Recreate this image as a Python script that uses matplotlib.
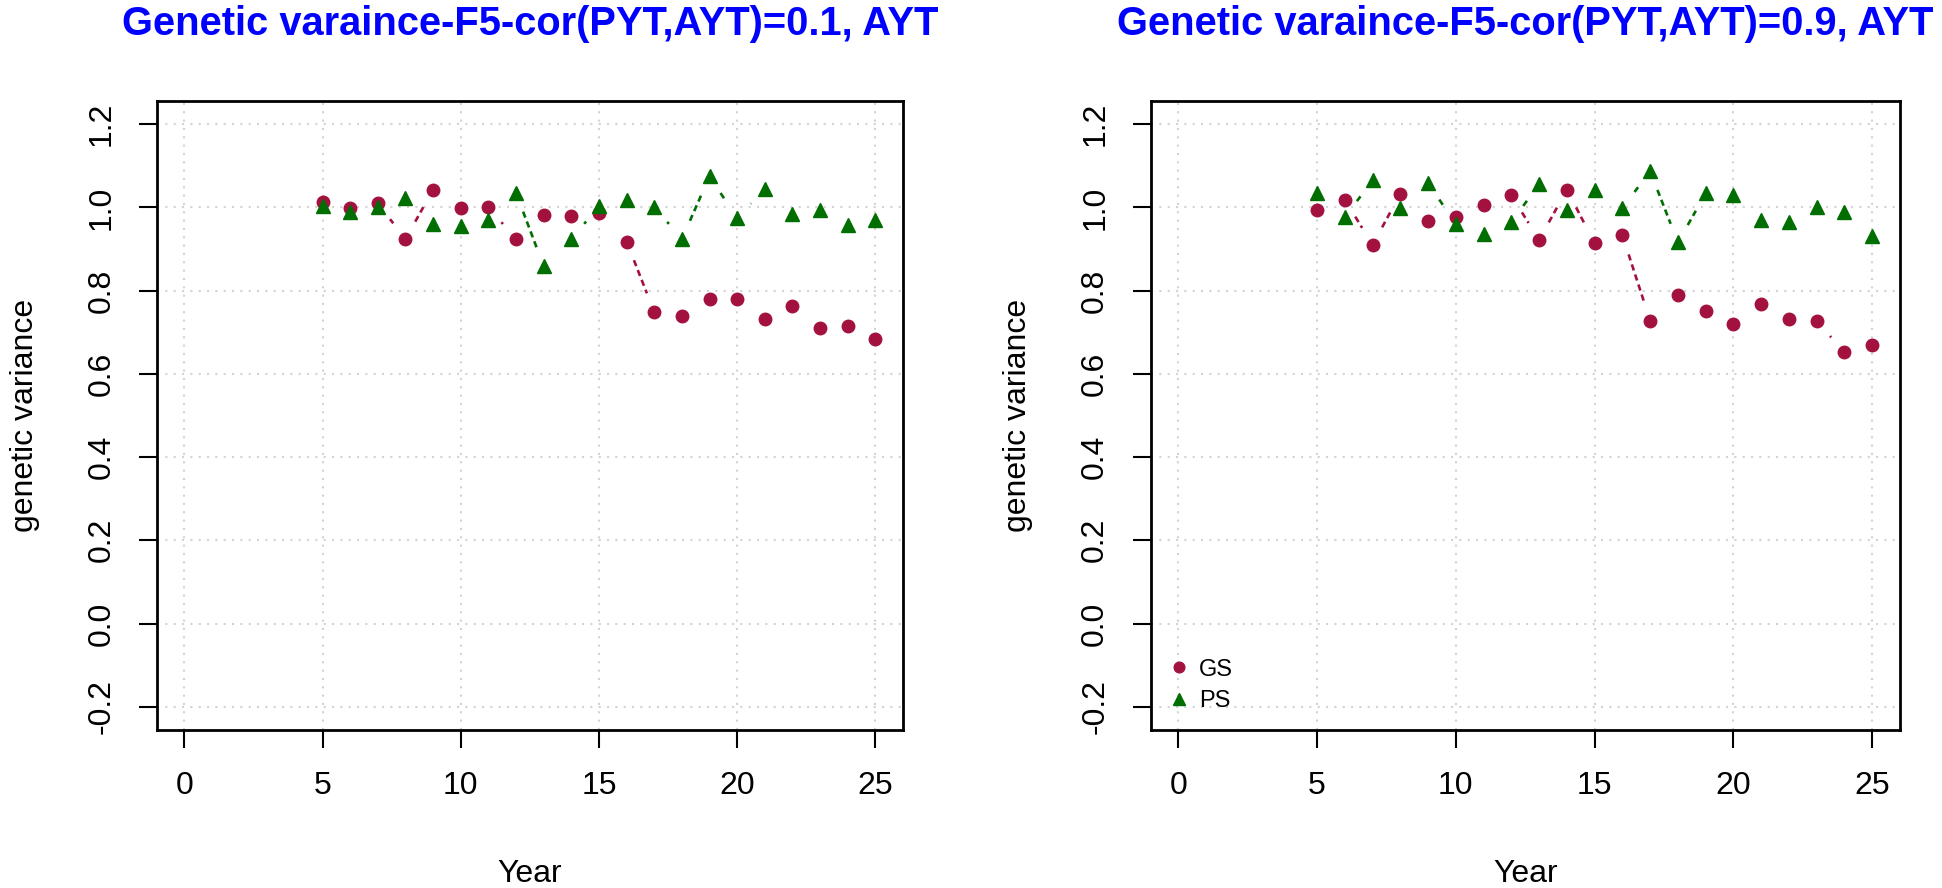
import numpy as np
import matplotlib
matplotlib.use("Agg")
import matplotlib.pyplot as plt

years = list(range(5, 26))

gs_cor01 = [1.013, 0.998, 1.010, 0.924, 1.043, 0.998, 1.001, 0.924, 0.983, 0.979,
            0.987, 0.918, 0.749, 0.740, 0.779, 0.779, 0.733, 0.764, 0.710, 0.714, 0.684]
ps_cor01 = [1.004, 0.990, 1.000, 1.023, 0.960, 0.956, 0.970, 1.035, 0.859, 0.924,
            1.003, 1.019, 1.002, 0.924, 1.075, 0.974, 1.045, 0.985, 0.993, 0.957, 0.969]

gs_cor09 = [0.993, 1.019, 0.910, 1.033, 0.967, 0.977, 1.007, 1.029, 0.922, 1.043,
            0.914, 0.933, 0.728, 0.790, 0.750, 0.719, 0.767, 0.731, 0.727, 0.652, 0.669]
ps_cor09 = [1.035, 0.977, 1.065, 0.999, 1.059, 0.960, 0.936, 0.965, 1.056, 0.995,
            1.041, 0.999, 1.087, 0.916, 1.034, 1.030, 0.969, 0.964, 1.002, 0.990, 0.931]

titles = ["Genetic varaince-F5-cor(PYT,AYT)=0.1, AYT",
          "Genetic varaince-F5-cor(PYT,AYT)=0.9, AYT"]
series_labels = ["GS", "PS"]
xticks = [0, 5, 10, 15, 20, 25]
yticks = [-0.2, 0.0, 0.2, 0.4, 0.6, 0.8, 1.0, 1.2]
ytick_labels = ["-0.2", "0.0", "0.2", "0.4", "0.6", "0.8", "1.0", "1.2"]

GS_COLOR = "#A3123F"
PS_COLOR = "#006E00"

plt.rcParams['font.family'] = ['Liberation Sans', 'DejaVu Sans']

W, H = 1942, 888
fig = plt.figure(figsize=(W / 100, H / 100), dpi=100)

def px_axes(x0, x1, ytop, ybot):
    return fig.add_axes([x0 / W, 1 - ybot / H, (x1 - x0) / W, (ybot - ytop) / H])

ax_left = px_axes(156.7, 903, 101, 730)
ax_right = px_axes(1150.5, 1900, 101, 730)


def draw_b(ax, xs, ys, color, gap=20):
    trans = ax.transData
    inv = trans.inverted()
    pts = trans.transform(np.column_stack([xs, ys]))
    for p0, p1 in zip(pts[:-1], pts[1:]):
        d = np.hypot(*(p1 - p0))
        if d > 2 * gap:
            u = (p1 - p0) / d
            a = p0 + u * gap
            b = p1 - u * gap
            seg = inv.transform(np.vstack([a, b]))
            ax.plot(seg[:, 0], seg[:, 1], color=color, lw=1.9,
                    ls=(0, (2.4, 1.6)), zorder=2, dash_capstyle='butt')


def setup(ax, title, gs, ps, legend=False):
    ax.set_xlim(-1, 26)
    ax.set_ylim(-0.256, 1.256)
    for v in xticks:
        ax.axvline(v, color="#D3D3D3", lw=1.5, ls=(0, (1, 3)), zorder=0)
    for v in yticks:
        ax.axhline(v, color="#D3D3D3", lw=1.5, ls=(0, (1, 3)), zorder=0)
    draw_b(ax, years, gs, GS_COLOR)
    draw_b(ax, years, ps, PS_COLOR)
    ax.plot(years, gs, 'o', color=GS_COLOR, ms=9, mec=GS_COLOR, zorder=3,
            label=series_labels[0])
    ax.plot(years, ps, '^', color=PS_COLOR, ms=10.5, mec=PS_COLOR, zorder=3,
            label=series_labels[1])
    ax.set_xticks(xticks)
    ax.set_xticklabels([str(v) for v in xticks])
    ax.set_yticks(yticks)
    ax.set_yticklabels(ytick_labels, rotation=90, va='center')
    ax.tick_params(axis='both', direction='out', length=13, width=1.5,
                   labelsize=23, colors='black')
    ax.tick_params(axis='x', pad=16.5)
    ax.tick_params(axis='y', pad=16)
    for s in ax.spines.values():
        s.set_linewidth(2)
        s.set_color('black')
    ax.set_xlabel("Year", fontsize=23)
    ax.xaxis.set_label_coords(0.5, (730 - 882) / 629)
    ax.xaxis.label.set_verticalalignment('baseline')
    ax.set_ylabel("genetic variance", fontsize=23)
    ax.yaxis.set_label_coords(-132 / 746.3, 0.5)
    ax.yaxis.label.set_verticalalignment('center')
    ax.set_title(title, fontsize=28.7, fontweight='bold', color='#0000FF',
                 y=(730 - 35) / 629, va='baseline', pad=0)
    if legend:
        ax.legend(loc='lower left', bbox_to_anchor=(0.0, 0.006), frameon=False,
                  fontsize=17, handletextpad=0.25, labelspacing=0.4,
                  borderaxespad=0.2, handlelength=1.2, markerscale=0.85)


setup(ax_left, titles[0], gs_cor01, ps_cor01)
setup(ax_right, titles[1], gs_cor09, ps_cor09, legend=True)

fig.savefig("out.png", dpi=100)
